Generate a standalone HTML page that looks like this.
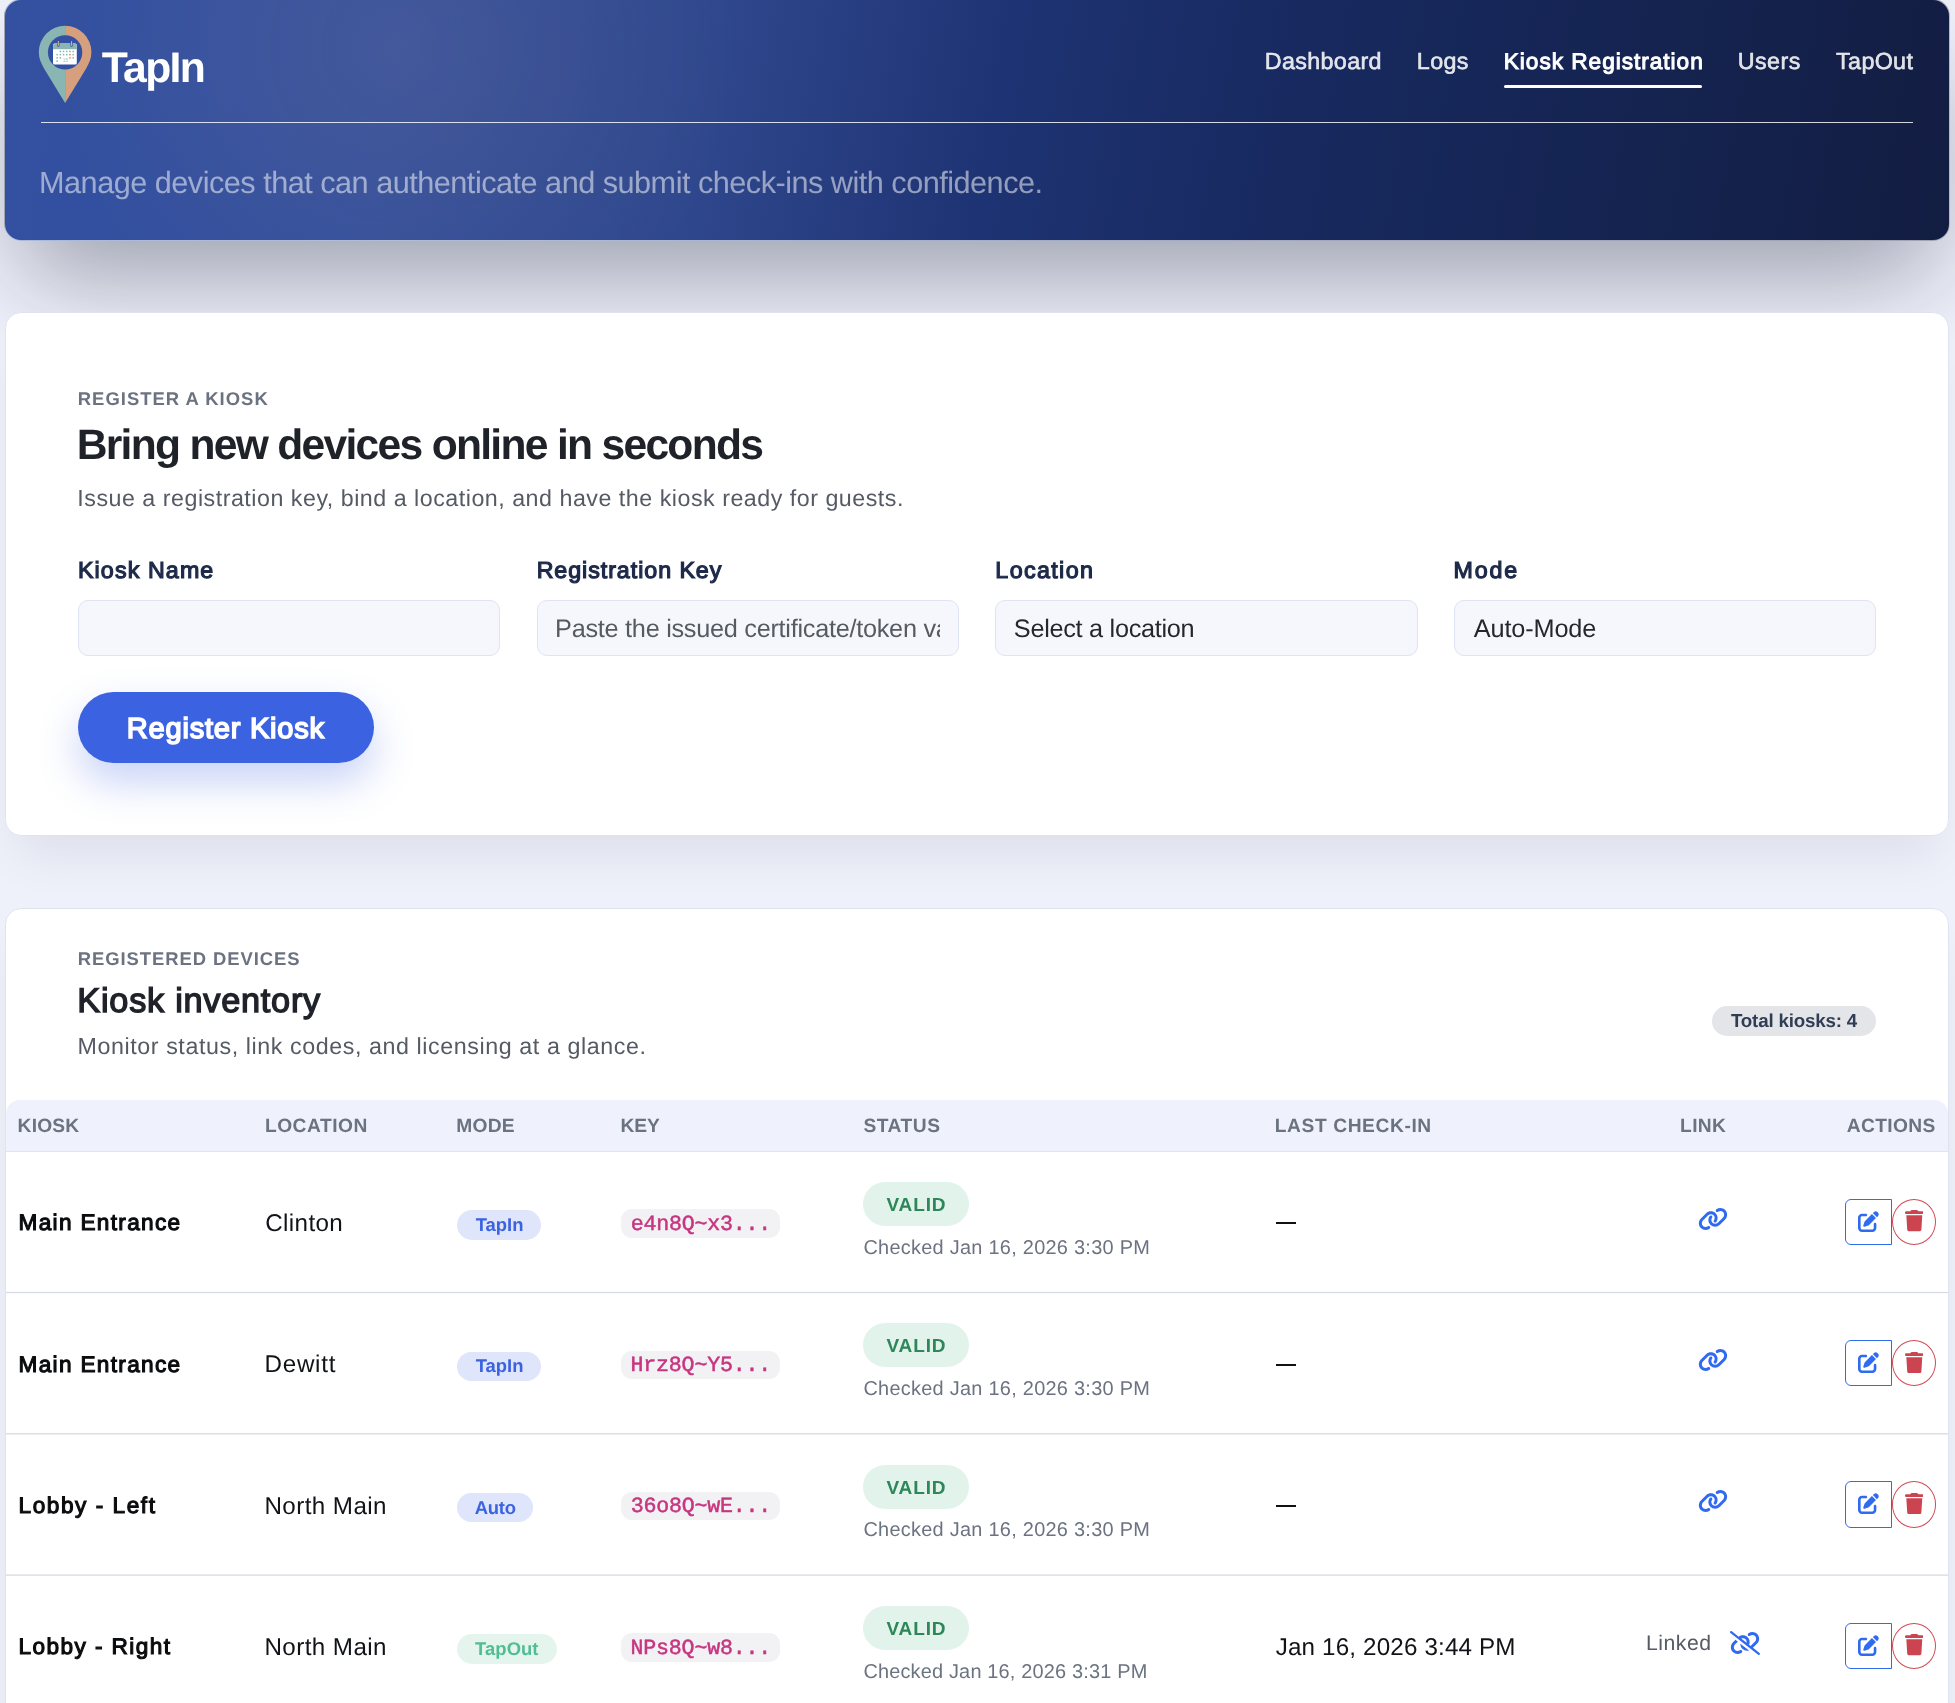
<!DOCTYPE html>
<html lang="en"><head><meta charset="utf-8"><title>TapIn</title><style>
html,body{margin:0;padding:0}
body{width:1955px;height:1703px;overflow:hidden;position:relative;background:#eef0fa;font-family:"Liberation Sans",sans-serif}
#w{position:absolute;left:0;top:0;width:1955px;height:1703px;overflow:hidden;will-change:transform}
.t{position:absolute;display:block;margin:0;padding:0;white-space:nowrap;line-height:1em;text-rendering:geometricPrecision;text-decoration:none}
.b{position:absolute}
.hdr{position:absolute;left:4px;top:-1px;width:1944px;height:240px;border-radius:17px;border:1px solid rgba(255,255,255,.6);background-clip:padding-box;
 background:radial-gradient(circle 340px at 392px 48px,rgba(255,200,140,.085),rgba(255,200,140,.05) 45%,rgba(255,200,140,0) 100%),linear-gradient(100deg,#3350a1 0%,#324e9c 20%,#2f478d 36%,#1e3373 51%,#17295f 66%,#14224d 87%,#131d42 100%);
 box-shadow:0 51px 100px -19px rgba(15,23,42,.38)}
.card{position:absolute;background:#fff;border-radius:16px;border:1px solid #dfe3f1;box-sizing:border-box;box-shadow:0 30px 50px -12px rgba(15,23,42,.075)}
.inp{position:absolute;box-sizing:border-box;background:#f6f7fc;border:1px solid #dfe4f3;border-radius:10px}
.btn{position:absolute;background:#3a62e1;border-radius:36px;box-shadow:0 19px 40px rgba(58,98,225,.28)}
</style></head><body>
<div id="w">
<div class="hdr"></div>
<svg class="b" style="left:36px;top:22px;width:58px;height:84px" viewBox="36 22 58 84">
<path d="M65.1 25.8 A26.3 26.3 0 0 0 38.8 52.1 C38.8 58.4 40.9 63.2 43.9 68.2 L65.1 103.1 Z" fill="#89b5b3"/>
<path d="M65.1 25.8 A26.3 26.3 0 0 1 91.4 52.1 C91.4 58.4 89.3 63.2 86.3 68.2 L65.1 103.1 Z" fill="#d6a07e"/>
<circle cx="65.1" cy="52.4" r="17.2" fill="#3450a1"/>
<rect x="53" y="43.4" width="23.8" height="21.2" rx="1.6" fill="#fff"/>
<path d="M53 49.3 V45.4 a2 2 0 0 1 2 -2 H74.8 a2 2 0 0 1 2 2 V49.3 Z" fill="#89b5b3"/>
<rect x="57.2" y="40.6" width="2.3" height="6.2" rx="1.15" fill="#3450a1"/>
<rect x="70.4" y="40.6" width="2.3" height="6.2" rx="1.15" fill="#3450a1"/>
<rect x="57.8" y="41" width="1.1" height="4.8" rx=".55" fill="#e3b08e"/>
<rect x="71" y="41" width="1.1" height="4.8" rx=".55" fill="#e3b08e"/>
<g fill="#89b5b3">
<rect x="59.6" y="50.7" width="1.5" height="1.5"/><rect x="62.8" y="50.7" width="1.5" height="1.5"/><rect x="66" y="50.7" width="1.5" height="1.5"/><rect x="72.4" y="50.7" width="1.5" height="1.5"/>
<rect x="56.4" y="53.9" width="1.5" height="1.5"/><rect x="59.6" y="53.9" width="1.5" height="1.5"/><rect x="62.8" y="53.9" width="1.5" height="1.5"/><rect x="66" y="53.9" width="1.5" height="1.5"/><rect x="72.4" y="53.9" width="1.5" height="1.5"/>
<rect x="56.4" y="57.1" width="1.5" height="1.5"/><rect x="59.6" y="57.1" width="1.5" height="1.5"/><rect x="72.4" y="57.1" width="1.5" height="1.5"/>
<rect x="56.4" y="60.3" width="1.5" height="1.5"/>
</g>
<g fill="#d98a62"><rect x="69.2" y="50.7" width="1.5" height="1.5"/><rect x="69.2" y="53.9" width="1.5" height="1.5"/><rect x="69.2" y="57.1" width="1.5" height="1.5"/></g>
<text x="65.4" y="61.9" font-family="Liberation Sans, sans-serif" font-size="4.8" fill="#9cc0be" text-anchor="middle">15</text>
</svg>
<h1 class="t" style="left:101.87px;top:47px;font-size:42.73px;font-weight:700;color:#fff;letter-spacing:-1.670px;font-family:'Liberation Sans',sans-serif;">TapIn</h1>
<a class="t" style="left:1264.72px;top:50px;font-size:23.31px;font-weight:400;color:rgba(255,255,255,.86);letter-spacing:0.354px;font-family:'Liberation Sans',sans-serif;-webkit-text-stroke:0.56px rgba(255,255,255,.86);">Dashboard</a>
<a class="t" style="left:1416.82px;top:50px;font-size:23.31px;font-weight:400;color:rgba(255,255,255,.86);letter-spacing:0.379px;font-family:'Liberation Sans',sans-serif;-webkit-text-stroke:0.56px rgba(255,255,255,.86);">Logs</a>
<a class="t" style="left:1503.79px;top:50px;font-size:22.67px;font-weight:400;color:#fff;letter-spacing:0.963px;font-family:'Liberation Sans',sans-serif;-webkit-text-stroke:1.0px #fff;">Kiosk Registration</a>
<a class="t" style="left:1737.63px;top:50px;font-size:23.31px;font-weight:400;color:rgba(255,255,255,.86);letter-spacing:0.466px;font-family:'Liberation Sans',sans-serif;-webkit-text-stroke:0.56px rgba(255,255,255,.86);">Users</a>
<a class="t" style="left:1836.11px;top:50px;font-size:23.31px;font-weight:400;color:rgba(255,255,255,.86);letter-spacing:0.333px;font-family:'Liberation Sans',sans-serif;-webkit-text-stroke:0.56px rgba(255,255,255,.86);">TapOut</a>
<div class="b" style="left:1504px;top:84.5px;width:198.00px;height:3.50px;background:#fff;border-radius:2px"></div>
<div class="b" style="left:41px;top:121.6px;width:1872.00px;height:1.60px;background:rgba(255,255,255,.82)"></div>
<p class="t" style="left:39.05px;top:168px;font-size:30.67px;font-weight:400;color:rgba(255,255,255,.52);letter-spacing:-0.510px;font-family:'Liberation Sans',sans-serif;">Manage devices that can authenticate and submit check-ins with confidence.</p>
<div class="card" style="left:5px;top:312px;width:1944px;height:524px"></div>
<span class="t" style="left:77.80px;top:390px;font-size:18.46px;font-weight:700;color:#6b7280;letter-spacing:1.006px;font-family:'Liberation Sans',sans-serif;">REGISTER A KIOSK</span>
<h2 class="t" style="left:76.63px;top:424px;font-size:42.59px;font-weight:700;color:#1f2329;letter-spacing:-1.705px;font-family:'Liberation Sans',sans-serif;">Bring new devices online in seconds</h2>
<p class="t" style="left:77.31px;top:487px;font-size:23.26px;font-weight:400;color:#555a64;letter-spacing:0.506px;font-family:'Liberation Sans',sans-serif;">Issue a registration key, bind a location, and have the kiosk ready for guests.</p>
<label class="t" style="left:77.94px;top:559px;font-size:23.26px;font-weight:400;color:#1e2a4a;letter-spacing:1.115px;font-family:'Liberation Sans',sans-serif;-webkit-text-stroke:1.2px #1e2a4a;">Kiosk Name</label>
<label class="t" style="left:536.64px;top:559px;font-size:23.26px;font-weight:400;color:#1e2a4a;letter-spacing:0.943px;font-family:'Liberation Sans',sans-serif;-webkit-text-stroke:1.2px #1e2a4a;">Registration Key</label>
<label class="t" style="left:995.34px;top:559px;font-size:23.26px;font-weight:400;color:#1e2a4a;letter-spacing:1.379px;font-family:'Liberation Sans',sans-serif;-webkit-text-stroke:1.2px #1e2a4a;">Location</label>
<label class="t" style="left:1453.54px;top:559px;font-size:23.26px;font-weight:400;color:#1e2a4a;letter-spacing:1.819px;font-family:'Liberation Sans',sans-serif;-webkit-text-stroke:1.2px #1e2a4a;">Mode</label>
<div class="inp" style="left:78px;top:600px;width:422.4px;height:55.6px"></div>
<div class="inp" style="left:537.1px;top:600px;width:422.4px;height:55.6px"></div>
<div class="inp" style="left:995.4px;top:600px;width:422.4px;height:55.6px"></div>
<div class="inp" style="left:1454.1px;top:600px;width:422.4px;height:55.6px"></div>
<div class="b" style="left:556px;top:610px;width:384px;height:36px;overflow:hidden"><div class="t" style="left:-0.92px;top:7px;font-size:25.29px;font-weight:400;color:#565a61;letter-spacing:-0.277px;font-family:'Liberation Sans',sans-serif;">Paste the issued certificate/token value</div></div>
<div class="t" style="left:1013.86px;top:617px;font-size:25.29px;font-weight:400;color:#24272d;letter-spacing:-0.295px;font-family:'Liberation Sans',sans-serif;">Select a location</div>
<div class="t" style="left:1473.80px;top:617px;font-size:25.29px;font-weight:400;color:#24272d;letter-spacing:-0.141px;font-family:'Liberation Sans',sans-serif;">Auto-Mode</div>
<div class="btn" style="left:78px;top:692px;width:296px;height:71px"></div>
<div class="t" style="left:126.87px;top:715px;font-size:29.07px;font-weight:400;color:#fff;letter-spacing:0.751px;font-family:'Liberation Sans',sans-serif;-webkit-text-stroke:1.6px #fff;">Register Kiosk</div>
<div class="card" style="left:5px;top:908px;width:1944px;height:900px"></div>
<span class="t" style="left:77.80px;top:950px;font-size:18.46px;font-weight:700;color:#6b7280;letter-spacing:0.926px;font-family:'Liberation Sans',sans-serif;">REGISTERED DEVICES</span>
<h2 class="t" style="left:77.36px;top:984px;font-size:34.30px;font-weight:400;color:#1f2329;letter-spacing:0.735px;font-family:'Liberation Sans',sans-serif;-webkit-text-stroke:1.4px #1f2329;">Kiosk inventory</h2>
<p class="t" style="left:77.54px;top:1035px;font-size:23.26px;font-weight:400;color:#555a64;letter-spacing:0.581px;font-family:'Liberation Sans',sans-serif;">Monitor status, link codes, and licensing at a glance.</p>
<div class="b" style="left:1711.9px;top:1006px;width:164.20px;height:30.00px;background:#e3e5e9;border-radius:15px"></div>
<span class="t" style="left:1731.01px;top:1012px;font-size:18.75px;font-weight:700;color:#313d53;letter-spacing:-0.195px;font-family:'Liberation Sans',sans-serif;">Total kiosks: 4</span>
<div class="b" style="left:6px;top:1100px;width:1942.00px;height:52.00px;background:#eff1fd;border-radius:14px 14px 0 0;border-bottom:1px solid #dfe3f2;box-sizing:border-box"></div>
<div class="t" style="left:17.55px;top:1117px;font-size:19.19px;font-weight:700;color:#6b7280;letter-spacing:0.226px;font-family:'Liberation Sans',sans-serif;">KIOSK</div>
<div class="t" style="left:264.95px;top:1117px;font-size:19.19px;font-weight:700;color:#6b7280;letter-spacing:0.509px;font-family:'Liberation Sans',sans-serif;">LOCATION</div>
<div class="t" style="left:456.15px;top:1117px;font-size:19.19px;font-weight:700;color:#6b7280;letter-spacing:0.316px;font-family:'Liberation Sans',sans-serif;">MODE</div>
<div class="t" style="left:620.55px;top:1117px;font-size:19.19px;font-weight:700;color:#6b7280;letter-spacing:-0.050px;font-family:'Liberation Sans',sans-serif;">KEY</div>
<div class="t" style="left:863.42px;top:1117px;font-size:19.19px;font-weight:700;color:#6b7280;letter-spacing:0.553px;font-family:'Liberation Sans',sans-serif;">STATUS</div>
<div class="t" style="left:1274.75px;top:1117px;font-size:19.19px;font-weight:700;color:#6b7280;letter-spacing:0.599px;font-family:'Liberation Sans',sans-serif;">LAST CHECK-IN</div>
<div class="t" style="left:1680.05px;top:1117px;font-size:19.19px;font-weight:700;color:#6b7280;letter-spacing:0.376px;font-family:'Liberation Sans',sans-serif;">LINK</div>
<div class="t" style="left:1846.82px;top:1117px;font-size:19.19px;font-weight:700;color:#6b7280;letter-spacing:0.366px;font-family:'Liberation Sans',sans-serif;">ACTIONS</div>
<strong class="t" style="left:18.54px;top:1212px;font-size:22.60px;font-weight:400;color:#0b0c0e;letter-spacing:1.331px;font-family:'Liberation Sans',sans-serif;-webkit-text-stroke:1.1px #0b0c0e;">Main Entrance</strong>
<div class="t" style="left:265.19px;top:1212px;font-size:24.20px;font-weight:400;color:#111317;letter-spacing:0.387px;font-family:'Liberation Sans',sans-serif;">Clinton</div>
<div class="b" style="left:457.1px;top:1210.2px;width:83.70px;height:29.50px;background:#dfe5fa;border-radius:15px"></div>
<span class="t" style="left:475.72px;top:1216px;font-size:18.46px;font-weight:700;color:#3b63e0;letter-spacing:-0.030px;font-family:'Liberation Sans',sans-serif;">TapIn</span>
<div class="b" style="left:620.9px;top:1209.3px;width:158.90px;height:28.50px;background:#f2f2f5;border-radius:11px"></div>
<code class="t" style="left:630.85px;top:1215px;font-size:21.60px;font-weight:400;color:#c73580;letter-spacing:-0.216px;font-family:'Liberation Mono',monospace;-webkit-text-stroke:0.5px #c73580;">e4n8Q~x3...</code>
<div class="b" style="left:863.1px;top:1182.0px;width:105.80px;height:44.00px;background:#e2f3ec;border-radius:22px"></div>
<span class="t" style="left:886.40px;top:1196px;font-size:19.04px;font-weight:700;color:#2e8759;letter-spacing:0.866px;font-family:'Liberation Sans',sans-serif;">VALID</span>
<div class="t" style="left:863.40px;top:1239px;font-size:19.91px;font-weight:400;color:#6b7280;letter-spacing:0.280px;font-family:'Liberation Sans',sans-serif;">Checked Jan 16, 2026 3:30 PM</div>
<div class="b" style="left:1276px;top:1222.3px;width:19.50px;height:2.00px;background:#111"></div>
<svg class="b" style="left:1697.5px;top:1206.7px;width:30px;height:24px" viewBox="0 0 640 512"><path fill="#2f6af0" d="M579.8 267.7c56.5-56.5 56.5-148 0-204.5c-50-50-128.8-56.5-186.3-15.4l-1.6 1.1c-14.400 10.300-17.700 30.300-7.400 44.600s30.300 17.700 44.600 7.400l1.600-1.100c32.100-22.900 76-19.300 103.800 8.600c31.500 31.500 31.500 82.500 0 114L422.300 334.800c-31.500 31.500-82.500 31.500-114 0c-27.900-27.900-31.500-71.800-8.600-103.800l1.100-1.600c10.300-14.400 6.900-34.400-7.400-44.600s-34.400-6.900-44.600 7.400l-1.100 1.600C206.500 251.200 213 330 263 380c56.500 56.500 148 56.500 204.500 0L579.800 267.700zM60.200 244.300c-56.500 56.500-56.500 148 0 204.500c50 50 128.800 56.500 186.300 15.400l1.600-1.100c14.400-10.300 17.700-30.300 7.400-44.600s-30.300-17.700-44.600-7.400l-1.600 1.100c-32.100 22.900-76 19.300-103.800-8.600C74 372 74 321 105.500 289.500L217.700 177.200c31.500-31.500 82.500-31.500 114 0c27.900 27.900 31.500 71.800 8.600 103.900l-1.100 1.600c-10.300 14.400-6.900 34.400 7.400 44.600s34.400 6.900 44.600-7.400l1.100-1.600C433.500 260.800 427 182 377 132c-56.500-56.500-148-56.500-204.500 0L60.200 244.300z"/></svg>
<div class="b" style="left:1845px;top:1198.7px;width:46.90px;height:46.30px;border:1.3px solid #2f6af0;border-radius:6px 0 0 6px;box-sizing:border-box"></div>
<svg class="b" style="left:1857.8px;top:1210.6px;width:21px;height:21px" viewBox="0 0 512 512"><path fill="#2f6af0" d="M471.6 21.7c-21.900-21.900-57.300-21.900-79.200 0L362.300 51.700l97.900 97.900 30.100-30.100c21.900-21.900 21.900-57.300 0-79.200L471.600 21.700zm-299.200 220c-6.100 6.100-10.800 13.600-13.500 21.900l-29.600 88.800c-2.900 8.600-.6 18.100 5.800 24.600s15.900 8.700 24.600 5.800l88.800-29.600c8.200-2.700 15.700-7.400 21.900-13.500L437.700 172.300 339.700 74.300 172.400 241.700zM96 64C43 64 0 107 0 160V416c0 53 43 96 96 96H352c53 0 96-43 96-96V320c0-17.700-14.300-32-32-32s-32 14.300-32 32v96c0 17.700-14.300 32-32 32H96c-17.700 0-32-14.300-32-32V160c0-17.700 14.300-32 32-32h96c17.700 0 32-14.300 32-32s-14.300-32-32-32H96z"/></svg>
<div class="b" style="left:1891.8px;top:1198.7px;width:44.40px;height:46.30px;border:1.3px solid #d04a55;border-radius:50%;box-sizing:border-box"></div>
<svg class="b" style="left:1904.7px;top:1210.4px;width:18.6px;height:21.3px" viewBox="0 0 448 512"><path fill="#cb4450" d="M135.2 17.7L128 32H32C14.300 32 0 46.300 0 64S14.300 96 32 96H416c17.700 0 32-14.300 32-32s-14.300-32-32-32H320l-7.200-14.300C307.400 6.800 296.300 0 284.200 0H163.800c-12.100 0-23.200 6.800-28.600 17.700zM416 128H32L53.200 467c1.600 25.300 22.600 45 47.900 45H346.900c25.300 0 46.300-19.700 47.900-45L416 128z"/></svg>
<div class="b" style="left:6px;top:1292px;width:1942.00px;height:1.00px;background:rgba(214,218,226,1.0)"></div>
<div class="b" style="left:6px;top:1293px;width:1942.00px;height:1.00px;background:rgba(214,218,226,0.12)"></div>
<div class="b" style="left:6px;top:1291px;width:1942.00px;height:1.00px;background:rgba(214,218,226,0.12)"></div>
<strong class="t" style="left:18.54px;top:1354px;font-size:22.60px;font-weight:400;color:#0b0c0e;letter-spacing:1.331px;font-family:'Liberation Sans',sans-serif;-webkit-text-stroke:1.1px #0b0c0e;">Main Entrance</strong>
<div class="t" style="left:264.46px;top:1353px;font-size:24.20px;font-weight:400;color:#111317;letter-spacing:0.760px;font-family:'Liberation Sans',sans-serif;">Dewitt</div>
<div class="b" style="left:457.1px;top:1351.5px;width:83.70px;height:29.50px;background:#dfe5fa;border-radius:15px"></div>
<span class="t" style="left:475.72px;top:1357px;font-size:18.46px;font-weight:700;color:#3b63e0;letter-spacing:-0.030px;font-family:'Liberation Sans',sans-serif;">TapIn</span>
<div class="b" style="left:620.9px;top:1350.6px;width:158.90px;height:28.50px;background:#f2f2f5;border-radius:11px"></div>
<code class="t" style="left:630.52px;top:1356px;font-size:21.60px;font-weight:400;color:#c73580;letter-spacing:-0.184px;font-family:'Liberation Mono',monospace;-webkit-text-stroke:0.5px #c73580;">Hrz8Q~Y5...</code>
<div class="b" style="left:863.1px;top:1323.3px;width:105.80px;height:44.00px;background:#e2f3ec;border-radius:22px"></div>
<span class="t" style="left:886.40px;top:1337px;font-size:19.04px;font-weight:700;color:#2e8759;letter-spacing:0.866px;font-family:'Liberation Sans',sans-serif;">VALID</span>
<div class="t" style="left:863.40px;top:1380px;font-size:19.91px;font-weight:400;color:#6b7280;letter-spacing:0.280px;font-family:'Liberation Sans',sans-serif;">Checked Jan 16, 2026 3:30 PM</div>
<div class="b" style="left:1276px;top:1363.6px;width:19.50px;height:2.00px;background:#111"></div>
<svg class="b" style="left:1697.5px;top:1348.0px;width:30px;height:24px" viewBox="0 0 640 512"><path fill="#2f6af0" d="M579.8 267.7c56.5-56.5 56.5-148 0-204.5c-50-50-128.8-56.5-186.3-15.4l-1.6 1.1c-14.400 10.300-17.700 30.300-7.400 44.600s30.300 17.700 44.600 7.400l1.600-1.100c32.100-22.900 76-19.300 103.800 8.600c31.500 31.500 31.500 82.500 0 114L422.300 334.800c-31.500 31.500-82.500 31.500-114 0c-27.900-27.900-31.500-71.800-8.600-103.800l1.100-1.600c10.300-14.400 6.900-34.400-7.400-44.600s-34.400-6.900-44.600 7.400l-1.100 1.600C206.500 251.200 213 330 263 380c56.500 56.500 148 56.500 204.500 0L579.800 267.700zM60.200 244.300c-56.500 56.500-56.500 148 0 204.500c50 50 128.800 56.500 186.300 15.400l1.600-1.100c14.400-10.300 17.700-30.300 7.400-44.600s-30.300-17.700-44.600-7.400l-1.600 1.100c-32.100 22.900-76 19.300-103.800-8.600C74 372 74 321 105.500 289.500L217.700 177.200c31.500-31.500 82.500-31.500 114 0c27.900 27.900 31.500 71.800 8.600 103.900l-1.100 1.600c-10.300 14.400-6.900 34.400 7.400 44.600s34.400 6.900 44.600-7.400l1.100-1.600C433.500 260.800 427 182 377 132c-56.500-56.500-148-56.500-204.500 0L60.200 244.300z"/></svg>
<div class="b" style="left:1845px;top:1340.0px;width:46.90px;height:46.30px;border:1.3px solid #2f6af0;border-radius:6px 0 0 6px;box-sizing:border-box"></div>
<svg class="b" style="left:1857.8px;top:1351.9px;width:21px;height:21px" viewBox="0 0 512 512"><path fill="#2f6af0" d="M471.6 21.7c-21.900-21.900-57.300-21.900-79.200 0L362.300 51.700l97.900 97.900 30.100-30.100c21.900-21.900 21.900-57.300 0-79.200L471.600 21.700zm-299.200 220c-6.100 6.100-10.800 13.600-13.500 21.900l-29.600 88.800c-2.900 8.600-.6 18.100 5.800 24.600s15.900 8.700 24.600 5.800l88.800-29.600c8.200-2.700 15.700-7.400 21.900-13.500L437.700 172.300 339.700 74.300 172.400 241.700zM96 64C43 64 0 107 0 160V416c0 53 43 96 96 96H352c53 0 96-43 96-96V320c0-17.700-14.300-32-32-32s-32 14.300-32 32v96c0 17.700-14.300 32-32 32H96c-17.700 0-32-14.300-32-32V160c0-17.700 14.300-32 32-32h96c17.700 0 32-14.300 32-32s-14.300-32-32-32H96z"/></svg>
<div class="b" style="left:1891.8px;top:1340.0px;width:44.40px;height:46.30px;border:1.3px solid #d04a55;border-radius:50%;box-sizing:border-box"></div>
<svg class="b" style="left:1904.7px;top:1351.7px;width:18.6px;height:21.3px" viewBox="0 0 448 512"><path fill="#cb4450" d="M135.2 17.7L128 32H32C14.300 32 0 46.300 0 64S14.300 96 32 96H416c17.700 0 32-14.300 32-32s-14.300-32-32-32H320l-7.200-14.300C307.400 6.800 296.300 0 284.200 0H163.800c-12.100 0-23.200 6.800-28.600 17.700zM416 128H32L53.200 467c1.600 25.300 22.600 45 47.900 45H346.900c25.300 0 46.300-19.700 47.900-45L416 128z"/></svg>
<div class="b" style="left:6px;top:1433px;width:1942.00px;height:1.00px;background:rgba(214,218,226,0.85)"></div>
<div class="b" style="left:6px;top:1434px;width:1942.00px;height:1.00px;background:rgba(214,218,226,0.45)"></div>
<strong class="t" style="left:18.54px;top:1495px;font-size:22.60px;font-weight:400;color:#0b0c0e;letter-spacing:1.554px;font-family:'Liberation Sans',sans-serif;-webkit-text-stroke:1.1px #0b0c0e;">Lobby - Left</strong>
<div class="t" style="left:264.46px;top:1495px;font-size:24.20px;font-weight:400;color:#111317;letter-spacing:0.419px;font-family:'Liberation Sans',sans-serif;">North Main</div>
<div class="b" style="left:457.1px;top:1492.8000000000002px;width:76.20px;height:29.50px;background:#dfe5fa;border-radius:15px"></div>
<span class="t" style="left:474.74px;top:1499px;font-size:18.46px;font-weight:700;color:#3b63e0;letter-spacing:-0.232px;font-family:'Liberation Sans',sans-serif;">Auto</span>
<div class="b" style="left:620.9px;top:1491.9px;width:158.90px;height:28.50px;background:#f2f2f5;border-radius:11px"></div>
<code class="t" style="left:630.85px;top:1497px;font-size:21.60px;font-weight:400;color:#c73580;letter-spacing:-0.216px;font-family:'Liberation Mono',monospace;-webkit-text-stroke:0.5px #c73580;">36o8Q~wE...</code>
<div class="b" style="left:863.1px;top:1464.6px;width:105.80px;height:44.00px;background:#e2f3ec;border-radius:22px"></div>
<span class="t" style="left:886.40px;top:1479px;font-size:19.04px;font-weight:700;color:#2e8759;letter-spacing:0.866px;font-family:'Liberation Sans',sans-serif;">VALID</span>
<div class="t" style="left:863.40px;top:1521px;font-size:19.91px;font-weight:400;color:#6b7280;letter-spacing:0.280px;font-family:'Liberation Sans',sans-serif;">Checked Jan 16, 2026 3:30 PM</div>
<div class="b" style="left:1276px;top:1504.9px;width:19.50px;height:2.00px;background:#111"></div>
<svg class="b" style="left:1697.5px;top:1489.3px;width:30px;height:24px" viewBox="0 0 640 512"><path fill="#2f6af0" d="M579.8 267.7c56.5-56.5 56.5-148 0-204.5c-50-50-128.8-56.5-186.3-15.4l-1.6 1.1c-14.400 10.300-17.700 30.300-7.400 44.600s30.300 17.700 44.600 7.400l1.600-1.100c32.100-22.900 76-19.300 103.800 8.600c31.500 31.500 31.500 82.500 0 114L422.300 334.800c-31.500 31.500-82.500 31.500-114 0c-27.900-27.900-31.500-71.800-8.600-103.800l1.100-1.600c10.300-14.400 6.900-34.400-7.400-44.600s-34.400-6.900-44.600 7.400l-1.100 1.600C206.500 251.200 213 330 263 380c56.500 56.500 148 56.500 204.500 0L579.800 267.700zM60.200 244.300c-56.500 56.500-56.500 148 0 204.500c50 50 128.800 56.500 186.300 15.400l1.600-1.100c14.400-10.300 17.700-30.300 7.400-44.600s-30.300-17.700-44.600-7.400l-1.600 1.100c-32.100 22.900-76 19.300-103.800-8.600C74 372 74 321 105.500 289.500L217.700 177.200c31.500-31.500 82.500-31.500 114 0c27.900 27.900 31.500 71.800 8.600 103.900l-1.100 1.600c-10.300 14.400-6.900 34.400 7.400 44.600s34.400 6.900 44.600-7.400l1.100-1.600C433.500 260.800 427 182 377 132c-56.500-56.500-148-56.500-204.500 0L60.200 244.300z"/></svg>
<div class="b" style="left:1845px;top:1481.3000000000002px;width:46.90px;height:46.30px;border:1.3px solid #2f6af0;border-radius:6px 0 0 6px;box-sizing:border-box"></div>
<svg class="b" style="left:1857.8px;top:1493.2px;width:21px;height:21px" viewBox="0 0 512 512"><path fill="#2f6af0" d="M471.6 21.7c-21.900-21.900-57.300-21.900-79.200 0L362.300 51.700l97.900 97.900 30.100-30.100c21.900-21.900 21.900-57.300 0-79.200L471.600 21.700zm-299.200 220c-6.100 6.100-10.800 13.600-13.500 21.900l-29.600 88.800c-2.900 8.600-.6 18.100 5.800 24.600s15.900 8.700 24.600 5.800l88.800-29.600c8.200-2.700 15.700-7.400 21.900-13.500L437.700 172.300 339.700 74.300 172.400 241.700zM96 64C43 64 0 107 0 160V416c0 53 43 96 96 96H352c53 0 96-43 96-96V320c0-17.700-14.300-32-32-32s-32 14.300-32 32v96c0 17.700-14.300 32-32 32H96c-17.700 0-32-14.300-32-32V160c0-17.700 14.300-32 32-32h96c17.700 0 32-14.300 32-32s-14.300-32-32-32H96z"/></svg>
<div class="b" style="left:1891.8px;top:1481.3000000000002px;width:44.40px;height:46.30px;border:1.3px solid #d04a55;border-radius:50%;box-sizing:border-box"></div>
<svg class="b" style="left:1904.7px;top:1493.0px;width:18.6px;height:21.3px" viewBox="0 0 448 512"><path fill="#cb4450" d="M135.2 17.7L128 32H32C14.300 32 0 46.300 0 64S14.300 96 32 96H416c17.700 0 32-14.300 32-32s-14.300-32-32-32H320l-7.200-14.300C307.400 6.800 296.300 0 284.200 0H163.800c-12.100 0-23.200 6.800-28.600 17.700zM416 128H32L53.200 467c1.600 25.300 22.600 45 47.900 45H346.900c25.300 0 46.300-19.700 47.900-45L416 128z"/></svg>
<div class="b" style="left:6px;top:1574px;width:1942.00px;height:1.00px;background:rgba(214,218,226,0.55)"></div>
<div class="b" style="left:6px;top:1575px;width:1942.00px;height:1.00px;background:rgba(214,218,226,0.75)"></div>
<strong class="t" style="left:18.54px;top:1636px;font-size:22.60px;font-weight:400;color:#0b0c0e;letter-spacing:1.422px;font-family:'Liberation Sans',sans-serif;-webkit-text-stroke:1.1px #0b0c0e;">Lobby - Right</strong>
<div class="t" style="left:264.46px;top:1636px;font-size:24.20px;font-weight:400;color:#111317;letter-spacing:0.419px;font-family:'Liberation Sans',sans-serif;">North Main</div>
<div class="b" style="left:457.1px;top:1634.1000000000001px;width:99.80px;height:29.50px;background:#e5f5ee;border-radius:15px"></div>
<span class="t" style="left:475.02px;top:1640px;font-size:18.46px;font-weight:700;color:#50be93;letter-spacing:0.067px;font-family:'Liberation Sans',sans-serif;">TapOut</span>
<div class="b" style="left:620.9px;top:1633.2px;width:158.90px;height:28.50px;background:#f2f2f5;border-radius:11px"></div>
<code class="t" style="left:630.52px;top:1639px;font-size:21.60px;font-weight:400;color:#c73580;letter-spacing:-0.184px;font-family:'Liberation Mono',monospace;-webkit-text-stroke:0.5px #c73580;">NPs8Q~w8...</code>
<div class="b" style="left:863.1px;top:1605.9px;width:105.80px;height:44.00px;background:#e2f3ec;border-radius:22px"></div>
<span class="t" style="left:886.40px;top:1620px;font-size:19.04px;font-weight:700;color:#2e8759;letter-spacing:0.866px;font-family:'Liberation Sans',sans-serif;">VALID</span>
<div class="t" style="left:863.40px;top:1663px;font-size:19.91px;font-weight:400;color:#6b7280;letter-spacing:0.187px;font-family:'Liberation Sans',sans-serif;">Checked Jan 16, 2026 3:31 PM</div>
<div class="t" style="left:1275.64px;top:1636px;font-size:24.20px;font-weight:400;color:#111317;letter-spacing:0.170px;font-family:'Liberation Sans',sans-serif;">Jan 16, 2026 3:44 PM</div>
<div class="t" style="left:1645.90px;top:1633px;font-size:21.22px;font-weight:400;color:#555b65;letter-spacing:0.537px;font-family:'Liberation Sans',sans-serif;">Linked</div>
<svg class="b" style="left:1729.5px;top:1630.9px;width:30px;height:24px" viewBox="0 0 640 512"><path fill="#2f6af0" d="M38.800 5.100C28.400-3.100 13.300-1.200 5.100 9.200S-1.200 34.700 9.200 42.900l592 464c10.400 8.200 25.500 6.300 33.700-4.100s6.300-25.500-4.100-33.700L489.300 358.200l90.500-90.500c56.500-56.500 56.500-148 0-204.500c-50-50-128.800-56.500-186.300-15.400l-1.600 1.100c-14.400 10.300-17.700 30.300-7.400 44.600s30.300 17.700 44.600 7.400l1.600-1.100c32.100-22.900 76-19.300 103.800 8.600c31.500 31.500 31.500 82.500 0 114l-96 96-31.900-25C430.900 239.600 420.100 175.100 377 132c-52.200-52.300-134.500-56.200-191.300-11.700L38.800 5.100zM239 162c30.100-14.900 67.700-9.900 92.800 15.300c20 20 27.500 48.300 21.700 74.500L239 162zM406.600 416.400L220.900 270c-2.100 39.800 12.200 80.100 42.200 110c38.900 38.900 94.400 51 143.600 36.300zm-290-228.500L60.200 244.300c-56.500 56.500-56.500 148 0 204.500c50 50 128.800 56.500 186.300 15.400l1.600-1.100c14.400-10.300 17.700-30.300 7.400-44.600s-30.300-17.700-44.600-7.400l-1.600 1.100c-32.100 22.900-76 19.300-103.800-8.600C74 372 74 321 105.500 289.500l61.800-61.800-50.600-39.900z"/></svg>
<div class="b" style="left:1845px;top:1622.6000000000001px;width:46.90px;height:46.30px;border:1.3px solid #2f6af0;border-radius:6px 0 0 6px;box-sizing:border-box"></div>
<svg class="b" style="left:1857.8px;top:1634.5px;width:21px;height:21px" viewBox="0 0 512 512"><path fill="#2f6af0" d="M471.6 21.7c-21.900-21.900-57.300-21.900-79.200 0L362.300 51.700l97.900 97.900 30.100-30.100c21.900-21.900 21.900-57.300 0-79.200L471.600 21.700zm-299.200 220c-6.100 6.100-10.800 13.600-13.500 21.900l-29.600 88.800c-2.900 8.600-.6 18.100 5.800 24.600s15.900 8.700 24.600 5.800l88.800-29.600c8.200-2.700 15.700-7.400 21.900-13.500L437.700 172.300 339.700 74.300 172.400 241.700zM96 64C43 64 0 107 0 160V416c0 53 43 96 96 96H352c53 0 96-43 96-96V320c0-17.700-14.300-32-32-32s-32 14.300-32 32v96c0 17.700-14.300 32-32 32H96c-17.700 0-32-14.300-32-32V160c0-17.700 14.300-32 32-32h96c17.700 0 32-14.300 32-32s-14.300-32-32-32H96z"/></svg>
<div class="b" style="left:1891.8px;top:1622.6000000000001px;width:44.40px;height:46.30px;border:1.3px solid #d04a55;border-radius:50%;box-sizing:border-box"></div>
<svg class="b" style="left:1904.7px;top:1634.3px;width:18.6px;height:21.3px" viewBox="0 0 448 512"><path fill="#cb4450" d="M135.2 17.7L128 32H32C14.300 32 0 46.300 0 64S14.300 96 32 96H416c17.700 0 32-14.300 32-32s-14.300-32-32-32H320l-7.200-14.300C307.400 6.800 296.300 0 284.200 0H163.800c-12.100 0-23.200 6.800-28.600 17.700zM416 128H32L53.200 467c1.600 25.300 22.600 45 47.900 45H346.900c25.300 0 46.300-19.700 47.900-45L416 128z"/></svg>
</div>
</body></html>
